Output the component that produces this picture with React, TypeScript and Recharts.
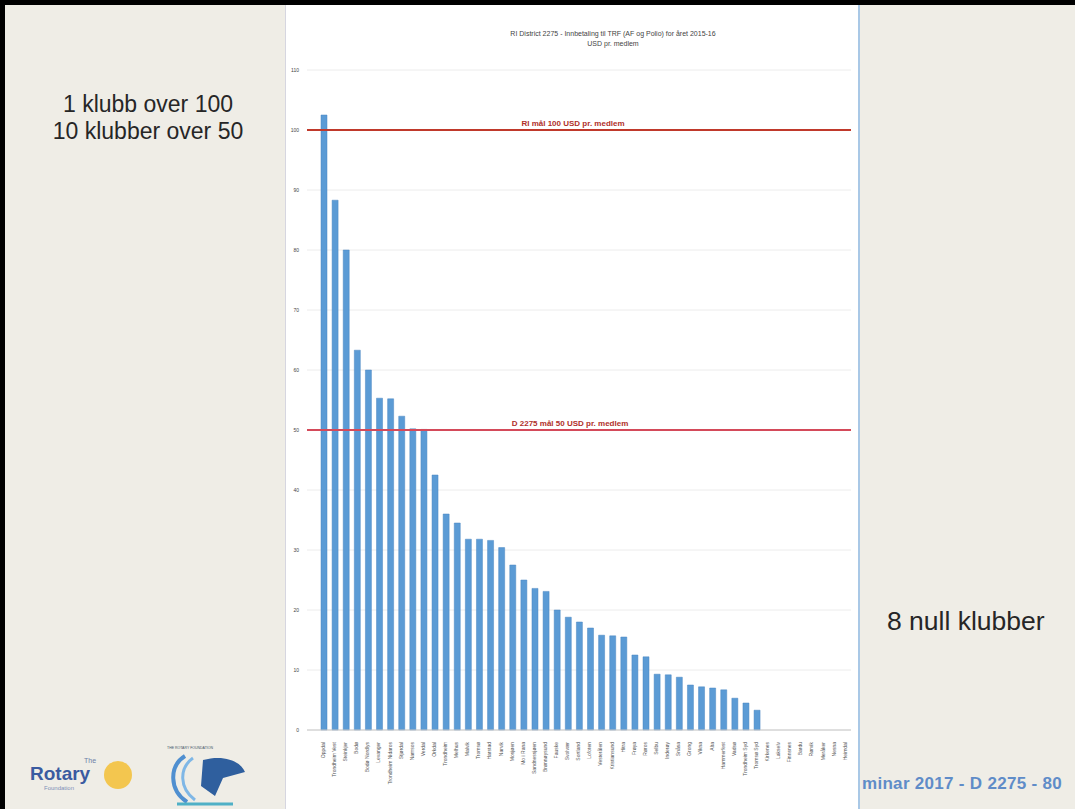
import { BarChart, Bar, XAxis, YAxis, CartesianGrid, ReferenceLine } from 'recharts';

// klubbnavn (uleselige i originalen, anslått)
const clubs = [
  'Oppdal', 'Trondheim Vest', 'Steinkjer', 'Bodø', 'Bodø Nordlys', 'Levanger',
  'Trondheim Nidaros', 'Stjørdal', 'Namsos', 'Verdal', 'Orkdal', 'Trondheim',
  'Melhus', 'Malvik', 'Tromsø', 'Harstad', 'Narvik', 'Mosjøen', 'Mo i Rana',
  'Sandnessjøen', 'Brønnøysund', 'Fauske', 'Svolvær', 'Sortland', 'Lofoten',
  'Vesterålen', 'Kristiansund', 'Hitra', 'Frøya', 'Røros', 'Selbu', 'Inderøy',
  'Snåsa', 'Grong', 'Vikna', 'Alta', 'Hammerfest', 'Vadsø', 'Trondheim Syd',
  'Tromsø Syd', 'Kirkenes', 'Lakselv', 'Finnsnes', 'Bardu', 'Rørvik', 'Meråker',
  'Nesna', 'Heimdal',
];

// USD pr. medlem
const usdPerMember = [
  102.5, 88.3, 80, 63.3, 60, 55.3, 55.2, 52.3, 50.2, 50.1,
  42.5, 36, 34.5, 31.8, 31.8, 31.6, 30.4, 27.5, 25, 23.6,
  23.1, 20, 18.8, 18, 17, 15.8, 15.7, 15.5, 12.5, 12.2,
  9.3, 9.2, 8.8, 7.5, 7.2, 7, 6.7, 5.3, 4.5, 3.3,
  0, 0, 0, 0, 0, 0, 0, 0,
];

const yTicks = [0, 10, 20, 30, 40, 50, 60, 70, 80, 90, 100, 110];

const riGoal = 100;
const districtGoal = 50;

const data = clubs.map((name, i) => ({ name, value: usdPerMember[i] }));

const FONT = 'Liberation Sans, Arial, sans-serif';

const VerticalTick = (props: any) => {
  const { x, y, payload } = props;
  return (
    <text
      x={x}
      y={y + 4}
      transform={`rotate(-90, ${x}, ${y + 4})`}
      textAnchor="end"
      dominantBaseline="middle"
      fontSize={5}
      fill="#555"
      fontFamily={FONT}
    >
      {payload.value}
    </text>
  );
};

const slideText: React.CSSProperties = {
  position: 'absolute',
  fontFamily: FONT,
  color: '#262626',
  fontSize: 23,
  whiteSpace: 'nowrap',
};

export default function App() {
  return (
    <div
      style={{
        position: 'absolute',
        left: 0,
        top: 0,
        width: 1075,
        height: 809,
        background: '#efede6',
        overflow: 'hidden',
      }}
    >
      <div style={{ position: 'absolute', left: 0, top: 0, width: 1075, height: 5, background: '#000' }} />
      <div style={{ position: 'absolute', left: 0, top: 0, width: 5, height: 809, background: '#000' }} />

      <div style={{ ...slideText, left: 0, top: 91, width: 296, textAlign: 'center', lineHeight: '27px' }}>
        1 klubb over 100
        <br />
        10 klubber over 50
      </div>
      <div style={{ ...slideText, left: 887, top: 606, fontSize: 26.5 }}>8 null klubber</div>
      <div
        style={{
          ...slideText,
          left: 862,
          top: 774,
          fontSize: 17,
          fontWeight: 'bold',
          letterSpacing: 0.3,
          color: '#5f8cc8',
        }}
      >
        minar 2017 - D 2275 - 80
      </div>

      {/* logoer */}
      <div style={{ position: 'absolute', left: 30, top: 757, fontFamily: FONT }}>
        <div style={{ position: 'absolute', left: 54, top: 0, fontSize: 7, color: '#6d7fa8' }}>The</div>
        <div style={{ position: 'absolute', left: 0, top: 6, fontSize: 19, fontWeight: 'bold', color: '#3a5ba0' }}>Rotary</div>
        <div style={{ position: 'absolute', left: 14, top: 28, fontSize: 6, color: '#7d8fb8' }}>Foundation</div>
        <div
          style={{
            position: 'absolute',
            left: 74,
            top: 4,
            width: 28,
            height: 28,
            borderRadius: 14,
            background: '#f3c64f',
          }}
        />
      </div>
      <svg style={{ position: 'absolute', left: 163, top: 742 }} width={90} height={67}>
        <text x={4} y={7} fontSize={3.5} fill="#456" fontFamily={FONT}>THE ROTARY FOUNDATION</text>
        <path d="M22 14 C6 24 6 48 24 60" stroke="#4f8fd0" strokeWidth={4} fill="none" />
        <path d="M30 16 C16 26 16 46 32 58" stroke="#7fb7e6" strokeWidth={3} fill="none" />
        <path d="M40 18 C62 12 78 20 82 30 L60 36 L52 54 L38 44 Z" fill="#2f5f9e" />
        <path d="M14 62 L70 62" stroke="#4fb0c6" strokeWidth={3} />
      </svg>

      {/* diagrampanel */}
      <div
        style={{
          position: 'absolute',
          left: 285,
          top: 5,
          width: 575,
          height: 804,
          background: '#fff',
          borderLeft: '1px solid #d6d6e0',
          borderRight: '2px solid #a9c8e6',
          boxSizing: 'border-box',
        }}
      >
        <div
          style={{
            position: 'absolute',
            left: 82,
            top: 24,
            width: 490,
            textAlign: 'center',
            fontFamily: FONT,
            fontSize: 7,
            lineHeight: '10px',
            color: '#444',
          }}
        >
          RI District 2275 - Innbetaling til TRF (AF og Polio) for året 2015-16
          <br />
          USD pr. medlem
        </div>
        <BarChart
          width={573}
          height={809}
          data={data}
          margin={{ top: 70, right: 7, bottom: 9, left: 2 }}
          barSize={6}
          style={{ position: 'absolute', left: -1, top: -5 }}
        >
          <CartesianGrid vertical={false} stroke="#ececec" />
          <XAxis
            dataKey="name"
            interval={0}
            height={70}
            tick={<VerticalTick />}
            tickLine={false}
            axisLine={{ stroke: '#c8c8c8' }}
            padding={{ left: 11, right: 0 }}
          />
          <YAxis
            domain={[0, 110]}
            ticks={yTicks}
            width={20}
            axisLine={false}
            tickLine={false}
            tick={{ fontSize: 5, fill: '#444', fontFamily: FONT }}
          />
          <Bar dataKey="value" fill="#5b9bd5" stroke="#4a87c0" strokeWidth={0.5} isAnimationActive={false} />
          <ReferenceLine
            y={riGoal}
            stroke="#c0392b"
            strokeWidth={2}
            label={{
              value: 'RI  mål 100 USD pr. medlem',
              position: 'top',
              fontSize: 8,
              fontWeight: 'bold',
              fontFamily: FONT,
              fill: '#b0302a',
              offset: 4,
              dx: -6,
            }}
          />
          <ReferenceLine
            y={districtGoal}
            stroke="#d44a5a"
            strokeWidth={2}
            label={{
              value: 'D 2275 mål 50 USD pr. medlem',
              position: 'top',
              fontSize: 8,
              fontWeight: 'bold',
              fontFamily: FONT,
              fill: '#b0302a',
              offset: 4,
              dx: -9,
            }}
          />
        </BarChart>
      </div>
    </div>
  );
}
